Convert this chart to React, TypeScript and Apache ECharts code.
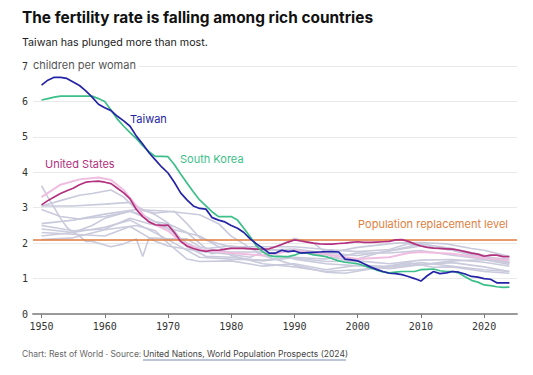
import React, { useEffect, useRef } from "react";
import * as echarts from "echarts";

type Pt = [number, number];

const decadeTicks = [1950, 1960, 1970, 1980, 1990, 2000, 2010, 2020];
const yTicks = [0, 1, 2, 3, 4, 5, 6, 7];
const replacementLevel = 2.1;

const taiwan: Pt[] = [
  [1950, 6.46], [1951, 6.6], [1952, 6.68], [1953, 6.68], [1954, 6.65], [1955, 6.55], [1956, 6.45],
  [1957, 6.3], [1958, 6.12], [1959, 5.92], [1960, 5.82], [1961, 5.74], [1962, 5.58], [1963, 5.45],
  [1964, 5.3], [1965, 5.02], [1966, 4.8], [1967, 4.55], [1968, 4.35], [1969, 4.15], [1970, 3.98],
  [1971, 3.72], [1972, 3.42], [1973, 3.22], [1974, 3.05], [1975, 2.98], [1976, 2.96], [1977, 2.72],
  [1978, 2.65], [1979, 2.6], [1980, 2.5], [1981, 2.42], [1982, 2.3], [1983, 2.12], [1984, 1.98],
  [1985, 1.86], [1986, 1.72], [1987, 1.72], [1988, 1.8], [1989, 1.76], [1990, 1.78], [1991, 1.72],
  [1992, 1.73], [1993, 1.74], [1994, 1.75], [1995, 1.76], [1996, 1.76], [1997, 1.75], [1998, 1.55],
  [1999, 1.53], [2000, 1.5], [2001, 1.42], [2002, 1.33], [2003, 1.26], [2004, 1.2], [2005, 1.15],
  [2006, 1.14], [2007, 1.11], [2008, 1.06], [2009, 1.0], [2010, 0.93], [2011, 1.08], [2012, 1.2],
  [2013, 1.14], [2014, 1.16], [2015, 1.2], [2016, 1.18], [2017, 1.13], [2018, 1.06], [2019, 1.04],
  [2020, 1.0], [2021, 0.98], [2022, 0.88], [2023, 0.88], [2024, 0.88],
];

const southKorea: Pt[] = [
  [1950, 6.04], [1951, 6.08], [1952, 6.12], [1953, 6.15], [1955, 6.15], [1957, 6.15], [1958, 6.15],
  [1959, 6.08], [1960, 6.0], [1961, 5.75], [1962, 5.5], [1963, 5.3], [1964, 5.12], [1965, 4.95],
  [1966, 4.75], [1967, 4.58], [1968, 4.45], [1969, 4.45], [1970, 4.44], [1971, 4.22], [1972, 3.95],
  [1973, 3.7], [1974, 3.45], [1975, 3.22], [1976, 3.05], [1977, 2.88], [1978, 2.75], [1979, 2.75],
  [1980, 2.75], [1981, 2.65], [1982, 2.42], [1983, 2.18], [1984, 1.92], [1985, 1.75], [1986, 1.65],
  [1987, 1.62], [1988, 1.62], [1989, 1.62], [1990, 1.66], [1991, 1.73], [1992, 1.72], [1993, 1.67],
  [1994, 1.65], [1995, 1.62], [1996, 1.56], [1997, 1.5], [1998, 1.46], [1999, 1.44], [2000, 1.42],
  [2001, 1.36], [2002, 1.3], [2003, 1.24], [2004, 1.19], [2005, 1.16], [2006, 1.18], [2007, 1.2],
  [2008, 1.2], [2009, 1.2], [2010, 1.25], [2011, 1.26], [2012, 1.27], [2013, 1.22], [2014, 1.2],
  [2015, 1.2], [2016, 1.16], [2017, 1.05], [2018, 0.95], [2019, 0.9], [2020, 0.82], [2021, 0.8],
  [2022, 0.77], [2023, 0.75], [2024, 0.76],
];

const unitedStates: Pt[] = [
  [1950, 3.08], [1951, 3.2], [1952, 3.3], [1953, 3.4], [1954, 3.48], [1955, 3.55], [1956, 3.65],
  [1957, 3.72], [1958, 3.74], [1959, 3.75], [1960, 3.72], [1961, 3.68], [1962, 3.55], [1963, 3.42],
  [1964, 3.25], [1965, 2.95], [1966, 2.75], [1967, 2.6], [1968, 2.52], [1969, 2.5], [1970, 2.51],
  [1971, 2.3], [1972, 2.05], [1973, 1.92], [1974, 1.85], [1975, 1.8], [1976, 1.77], [1977, 1.8],
  [1978, 1.8], [1979, 1.83], [1980, 1.85], [1982, 1.85], [1984, 1.83], [1986, 1.84], [1987, 1.9],
  [1988, 1.96], [1989, 2.03], [1990, 2.09], [1991, 2.06], [1992, 2.03], [1993, 2.0], [1994, 1.98],
  [1995, 1.97], [1996, 1.97], [1997, 1.99], [1998, 2.0], [1999, 2.02], [2000, 2.04], [2001, 2.02],
  [2002, 2.02], [2003, 2.03], [2004, 2.04], [2005, 2.05], [2006, 2.09], [2007, 2.1], [2008, 2.05],
  [2009, 1.98], [2010, 1.92], [2011, 1.88], [2012, 1.86], [2013, 1.85], [2014, 1.84], [2015, 1.83],
  [2016, 1.8], [2017, 1.76], [2018, 1.72], [2019, 1.69], [2020, 1.63], [2021, 1.66], [2022, 1.66],
  [2023, 1.62], [2024, 1.62],
];

const canada: Pt[] = [
  [1950, 3.3], [1953, 3.65], [1956, 3.8], [1959, 3.85], [1961, 3.78], [1963, 3.5], [1965, 3.05],
  [1967, 2.6], [1970, 2.35], [1972, 2.05], [1975, 1.82], [1980, 1.72], [1985, 1.65], [1990, 1.8],
  [1995, 1.68], [2000, 1.55], [2005, 1.6], [2008, 1.72], [2010, 1.75], [2015, 1.7], [2020, 1.58],
  [2024, 1.52],
];

const japan: Pt[] = [
  [1950, 3.62], [1951, 3.3], [1952, 3.0], [1953, 2.7], [1954, 2.45], [1955, 2.3], [1956, 2.2],
  [1957, 2.05], [1958, 2.05], [1960, 1.95], [1961, 1.9], [1963, 1.98], [1964, 2.05], [1965, 2.12],
  [1966, 1.62], [1967, 2.15], [1970, 2.12], [1973, 2.12], [1975, 1.9], [1978, 1.78], [1980, 1.75],
  [1985, 1.75], [1990, 1.55], [1995, 1.42], [2000, 1.36], [2005, 1.28], [2010, 1.39], [2015, 1.45],
  [2020, 1.33], [2024, 1.2],
];

const australia: Pt[] = [
  [1950, 3.05], [1953, 3.2], [1956, 3.35], [1958, 3.4], [1961, 3.5], [1963, 3.3], [1965, 2.95],
  [1968, 2.85], [1971, 2.9], [1973, 2.55], [1975, 2.15], [1978, 1.98], [1980, 1.9], [1985, 1.9],
  [1990, 1.9], [1995, 1.82], [2000, 1.76], [2005, 1.82], [2008, 1.98], [2010, 1.93], [2015, 1.8],
  [2020, 1.6], [2024, 1.55],
];

const unitedKingdom: Pt[] = [
  [1950, 2.2], [1955, 2.3], [1958, 2.5], [1960, 2.7], [1964, 2.9], [1966, 2.75], [1968, 2.6],
  [1970, 2.42], [1973, 2.0], [1977, 1.7], [1980, 1.88], [1985, 1.8], [1990, 1.83], [1995, 1.72],
  [2000, 1.65], [2005, 1.78], [2010, 1.92], [2015, 1.8], [2020, 1.56], [2024, 1.45],
];

const france: Pt[] = [
  [1950, 2.95], [1953, 2.75], [1956, 2.68], [1960, 2.75], [1964, 2.9], [1966, 2.8], [1968, 2.6],
  [1970, 2.55], [1973, 2.3], [1976, 1.85], [1980, 1.92], [1985, 1.82], [1990, 1.78], [1994, 1.68],
  [2000, 1.88], [2006, 2.0], [2010, 2.02], [2014, 1.98], [2018, 1.85], [2020, 1.8], [2024, 1.62],
];

const germany: Pt[] = [
  [1950, 2.1], [1955, 2.15], [1960, 2.38], [1965, 2.5], [1968, 2.35], [1970, 2.0], [1973, 1.55],
  [1975, 1.48], [1980, 1.5], [1985, 1.35], [1990, 1.42], [1995, 1.25], [2000, 1.38], [2005, 1.34],
  [2010, 1.39], [2015, 1.5], [2020, 1.53], [2024, 1.4],
];

const italy: Pt[] = [
  [1950, 2.5], [1955, 2.35], [1960, 2.4], [1964, 2.7], [1967, 2.55], [1970, 2.42], [1975, 2.2],
  [1978, 1.9], [1980, 1.65], [1985, 1.42], [1990, 1.33], [1995, 1.2], [2000, 1.25], [2005, 1.33],
  [2010, 1.45], [2015, 1.35], [2020, 1.25], [2024, 1.2],
];

const spain: Pt[] = [
  [1950, 2.55], [1955, 2.65], [1960, 2.82], [1965, 2.95], [1970, 2.9], [1975, 2.8], [1978, 2.55],
  [1980, 2.2], [1985, 1.65], [1990, 1.38], [1995, 1.18], [1998, 1.15], [2003, 1.3], [2008, 1.45],
  [2012, 1.32], [2015, 1.33], [2020, 1.2], [2024, 1.15],
];

const netherlands: Pt[] = [
  [1950, 3.05], [1955, 3.05], [1960, 3.1], [1964, 3.15], [1966, 2.95], [1968, 2.8], [1970, 2.57],
  [1973, 1.9], [1976, 1.63], [1980, 1.6], [1985, 1.5], [1990, 1.6], [1995, 1.55], [2000, 1.72],
  [2005, 1.72], [2010, 1.79], [2015, 1.66], [2020, 1.55], [2024, 1.45],
];

const sweden: Pt[] = [
  [1950, 2.3], [1955, 2.25], [1960, 2.2], [1964, 2.47], [1968, 2.05], [1970, 1.92], [1975, 1.77],
  [1980, 1.68], [1983, 1.6], [1987, 1.9], [1990, 2.13], [1993, 2.0], [1996, 1.6], [1999, 1.5],
  [2003, 1.71], [2008, 1.9], [2010, 1.98], [2015, 1.85], [2020, 1.66], [2024, 1.45],
];

const switzerland: Pt[] = [
  [1950, 2.4], [1955, 2.3], [1960, 2.45], [1964, 2.65], [1970, 2.1], [1975, 1.6], [1980, 1.55],
  [1985, 1.52], [1990, 1.58], [1995, 1.48], [2000, 1.5], [2005, 1.42], [2010, 1.52], [2015, 1.54],
  [2020, 1.46], [2024, 1.35],
];

const grayCountries: { name: string; data: Pt[] }[] = [
  { name: "Japan", data: japan },
  { name: "Australia", data: australia },
  { name: "United Kingdom", data: unitedKingdom },
  { name: "France", data: france },
  { name: "Germany", data: germany },
  { name: "Italy", data: italy },
  { name: "Spain", data: spain },
  { name: "Netherlands", data: netherlands },
  { name: "Sweden", data: sweden },
  { name: "Switzerland", data: switzerland },
];

const FONT = "Inter, 'Noto Sans', sans-serif";
const MONO = "'DejaVu Sans Mono', monospace";

export default function App() {
  const ref = useRef<HTMLDivElement>(null);

  useEffect(() => {
    if (!ref.current) return;
    const chart = echarts.init(ref.current, null, { renderer: "svg" });

    const grayColor = "#c9cadc";
    const series: any[] = grayCountries.map((c) => ({
      name: c.name,
      type: "line",
      data: c.data,
      showSymbol: false,
      symbol: "none",
      lineStyle: { color: grayColor, width: 1.6 },
      z: 2,
      silent: true,
    }));

    series.push({
      name: "Canada",
      type: "line",
      data: canada,
      symbol: "none",
      lineStyle: { color: "#efbde0", width: 2 },
      z: 3,
      silent: true,
    });

    series.push({
      name: "Population replacement level",
      type: "line",
      data: [],
      symbol: "none",
      z: 4,
      markLine: {
        silent: true,
        symbol: "none",
        label: { show: false },
        lineStyle: { color: "#e07b3c", width: 1.5, type: "solid" },
        data: [{ yAxis: replacementLevel }],
      },
    });

    series.push(
      {
        name: "United States",
        type: "line",
        data: unitedStates,
        symbol: "none",
        lineStyle: { color: "#b3307e", width: 1.7 },
        z: 5,
      },
      {
        name: "South Korea",
        type: "line",
        data: southKorea,
        symbol: "none",
        lineStyle: { color: "#3cbf88", width: 1.7 },
        z: 5,
      },
      {
        name: "Taiwan",
        type: "line",
        data: taiwan,
        symbol: "none",
        lineStyle: { color: "#2424a6", width: 1.7 },
        z: 6,
      }
    );

    chart.setOption({
      animation: false,
      backgroundColor: "#ffffff",
      grid: { left: 33, right: 16, top: 66, bottom: 61, containLabel: false },
      xAxis: {
        type: "value",
        min: 1948.65,
        max: 2025.2,
        axisLine: { show: true, lineStyle: { color: "#9a9a9a", width: 2 } },
        axisTick: {
          show: true,
          length: 4,
          customValues: decadeTicks,
          lineStyle: { color: "#777", width: 1 },
        },
        axisLabel: {
          customValues: decadeTicks,
          fontFamily: MONO,
          fontSize: 10,
          color: "#333",
          margin: 7,
          formatter: (v: number) => String(Math.round(v)),
        },
        splitLine: { show: false },
      },
      yAxis: {
        type: "value",
        min: 0,
        max: 7,
        interval: 1,
        axisLine: { show: false },
        axisTick: { show: false },
        axisLabel: {
          fontFamily: MONO,
          fontSize: 10,
          color: "#333",
          margin: 5,
          formatter: (v: number) => (yTicks.includes(v) ? String(v) : ""),
        },
        splitLine: { show: true, lineStyle: { color: "#e9e9ec", width: 1.2 } },
      },
      series,
      graphic: [
        {
          type: "text",
          left: 22,
          top: 10,
          style: {
            text: "The fertility rate is falling among rich countries",
            fontFamily: FONT,
            fontWeight: 700,
            fontSize: 15.4,
            fill: "#111",
          },
        },
        {
          type: "text",
          left: 22,
          top: 37,
          style: {
            text: "Taiwan has plunged more than most.",
            fontFamily: FONT,
            fontSize: 10.7,
            fill: "#222",
          },
        },
        {
          type: "text",
          left: 31,
          top: 59,
          z: 100,
          style: {
            text: "children per woman",
            fontFamily: FONT,
            fontSize: 11,
            fill: "#555",
            backgroundColor: "#ffffff",
            padding: [0, 3, 0, 2],
          },
        },
        {
          type: "text",
          left: 130,
          top: 113,
          z: 100,
          style: { text: "Taiwan", fontFamily: FONT, fontSize: 11, fill: "#2424a6" },
        },
        {
          type: "text",
          left: 180,
          top: 153,
          z: 100,
          style: { text: "South Korea", fontFamily: FONT, fontSize: 11, fill: "#3cbf88" },
        },
        {
          type: "text",
          left: 45,
          top: 158,
          z: 100,
          style: { text: "United States", fontFamily: FONT, fontSize: 11, fill: "#b3307e" },
        },
        {
          type: "text",
          right: 25,
          top: 218,
          z: 100,
          style: {
            text: "Population replacement level",
            fontFamily: FONT,
            fontSize: 11,
            fill: "#e0803f",
          },
        },
        {
          type: "text",
          left: 22,
          top: 349,
          style: {
            text: "Chart: Rest of World · Source: ",
            fontFamily: FONT,
            fontSize: 8.5,
            fill: "#666",
          },
        },
        {
          type: "text",
          left: 143,
          top: 349,
          style: {
            text: "United Nations, World Population Prospects (2024)",
            fontFamily: FONT,
            fontSize: 8.5,
            fill: "#444",
          },
        },
        {
          type: "line",
          shape: { x1: 143, y1: 360, x2: 346, y2: 360 },
          style: { stroke: "#7b8db0", lineWidth: 1 },
        },
      ],
    });

    return () => chart.dispose();
  }, []);

  return <div ref={ref} style={{ width: 533, height: 375, margin: -8 }} />;
}
